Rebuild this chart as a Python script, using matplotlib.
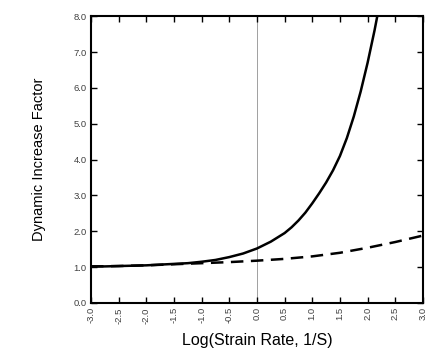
import matplotlib.pyplot as plt
import numpy as np

plt.rcParams['font.family'] = ['Liberation Sans', 'DejaVu Sans']

# values
x_solid = [-3.0, -2.75, -2.5, -2.25, -2.0, -1.75, -1.5, -1.25, -1.0, -0.75, -0.5, -0.25,
           0.0, 0.25, 0.5, 0.625, 0.75, 0.875, 1.0, 1.125, 1.25, 1.375, 1.5, 1.625,
           1.75, 1.875, 2.0, 2.125, 2.25]
dif_solid = [1.02, 1.02, 1.03, 1.04, 1.05, 1.07, 1.09, 1.11, 1.15, 1.2, 1.28, 1.38,
             1.52, 1.71, 1.95, 2.11, 2.3, 2.52, 2.78, 3.06, 3.36, 3.7, 4.1, 4.6,
             5.2, 5.9, 6.7, 7.6, 8.6]

x_dashed = [-3.0, -2.5, -2.0, -1.5, -1.0, -0.5, 0.0, 0.5, 1.0, 1.5, 2.0, 2.5, 3.0]
dif_dashed = [1.02, 1.03, 1.05, 1.08, 1.11, 1.14, 1.18, 1.23, 1.3, 1.4, 1.54, 1.7, 1.88]

x_ticks = np.arange(-3.0, 3.01, 0.5)
y_ticks = np.arange(0.0, 8.01, 1.0)

fig = plt.figure(figsize=(4.32, 3.51), dpi=100)
ax = fig.add_axes([0.2106, 0.1368, 0.7684, 0.8172])

ax.axvline(0.0, color='#a0a0a0', lw=0.7, zorder=1)
ax.plot(x_solid, dif_solid, color='black', lw=1.8, zorder=3)
ax.plot(x_dashed, dif_dashed, color='black', lw=1.8, ls=(0, (5, 3)), zorder=3)

ax.set_xlim(-3, 3)
ax.set_ylim(0, 8)
ax.set_xticks(x_ticks)
ax.set_yticks(y_ticks)
ax.set_xticklabels([f"{v:.1f}" for v in x_ticks], rotation=90)
ax.set_yticklabels([f"{v:.1f}" for v in y_ticks])
ax.tick_params(direction='in', top=True, right=True, length=4, width=1,
               labelsize=6.8, labelcolor='#404040', pad=3)
for s in ax.spines.values():
    s.set_linewidth(1.5)

ax.set_xlabel("Log(Strain Rate, 1/S)", fontsize=11.5, labelpad=7)
ax.set_ylabel("Dynamic Increase Factor", fontsize=10.5, labelpad=20)

fig.savefig("out.png", dpi=100)
